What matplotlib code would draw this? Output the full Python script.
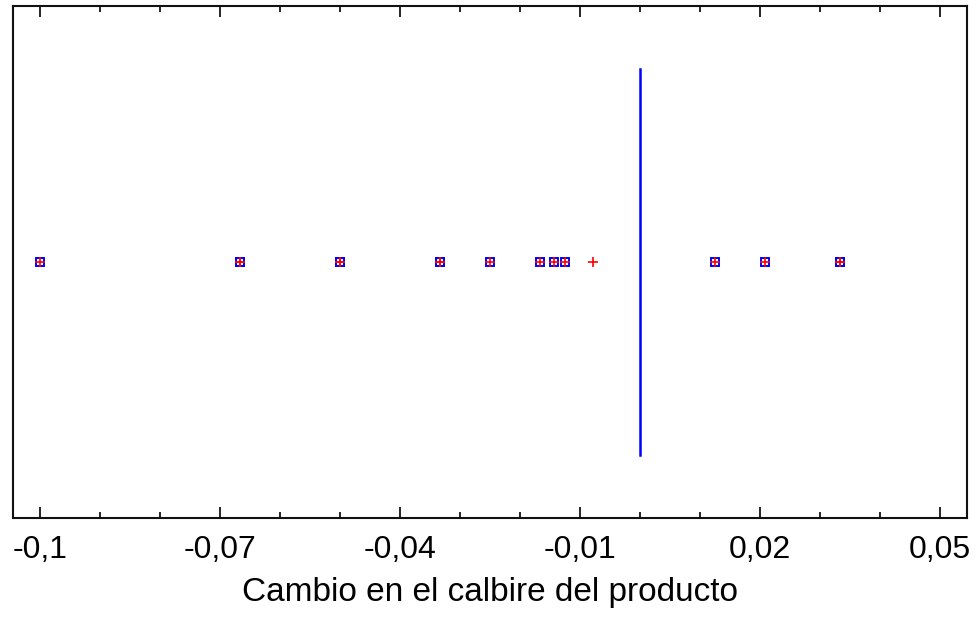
import matplotlib.pyplot as plt
import numpy as np
from matplotlib.ticker import MultipleLocator, FixedLocator

plt.rcParams['font.family'] = ['Liberation Sans', 'DejaVu Sans']

# Valores observados (cuadrados azules)
cambios = [-0.1, -0.0667, -0.0667, -0.05, -0.05, -0.0333, -0.0333,
           -0.025, -0.0167, -0.0143, -0.0125, 0.0125, 0.0208, 0.0333, 0.0333]
# Marca roja sola
punto_extra = [-0.0078]
# Linea vertical (mediana / referencia)
linea_x = 0.0
linea_y = [-0.755, 0.755]

tick_vals = [-0.1, -0.07, -0.04, -0.01, 0.02, 0.05]
tick_labels = ["-0,1", "-0,07", "-0,04", "-0,01", "0,02", "0,05"]

fig = plt.figure(figsize=(9.8, 6.18), dpi=100)
ax = fig.add_axes([13 / 980, 100 / 618, 954 / 980, 512 / 618])

y = np.zeros(len(cambios))
ax.plot(cambios, y, linestyle="none", marker="s", markersize=5.5,
        markerfacecolor="none", markeredgecolor="blue", markeredgewidth=1.4)
ax.plot(cambios + punto_extra, np.zeros(len(cambios) + 1), linestyle="none",
        marker="+", markersize=7, color="red", markeredgewidth=1.2)

ax.plot([linea_x, linea_x], linea_y, color="blue", linewidth=1.8)

ax.set_xlim(-0.1045, 0.0545)
ax.set_ylim(-1, 1)
ax.set_yticks([])

ax.xaxis.set_major_locator(FixedLocator(tick_vals))
ax.xaxis.set_minor_locator(MultipleLocator(0.01))
ax.set_xticklabels(tick_labels)
ax.tick_params(axis="x", which="major", direction="in", length=8, width=1.2,
               top=True, labelsize=23, pad=12)
ax.tick_params(axis="x", which="minor", direction="in", length=4, width=1.2,
               top=True)
for s in ax.spines.values():
    s.set_linewidth(1.5)
    s.set_color("#111111")

ax.set_xlabel("Cambio en el calbire del producto", fontsize=24, labelpad=9)

fig.savefig("out.png", dpi=100)
